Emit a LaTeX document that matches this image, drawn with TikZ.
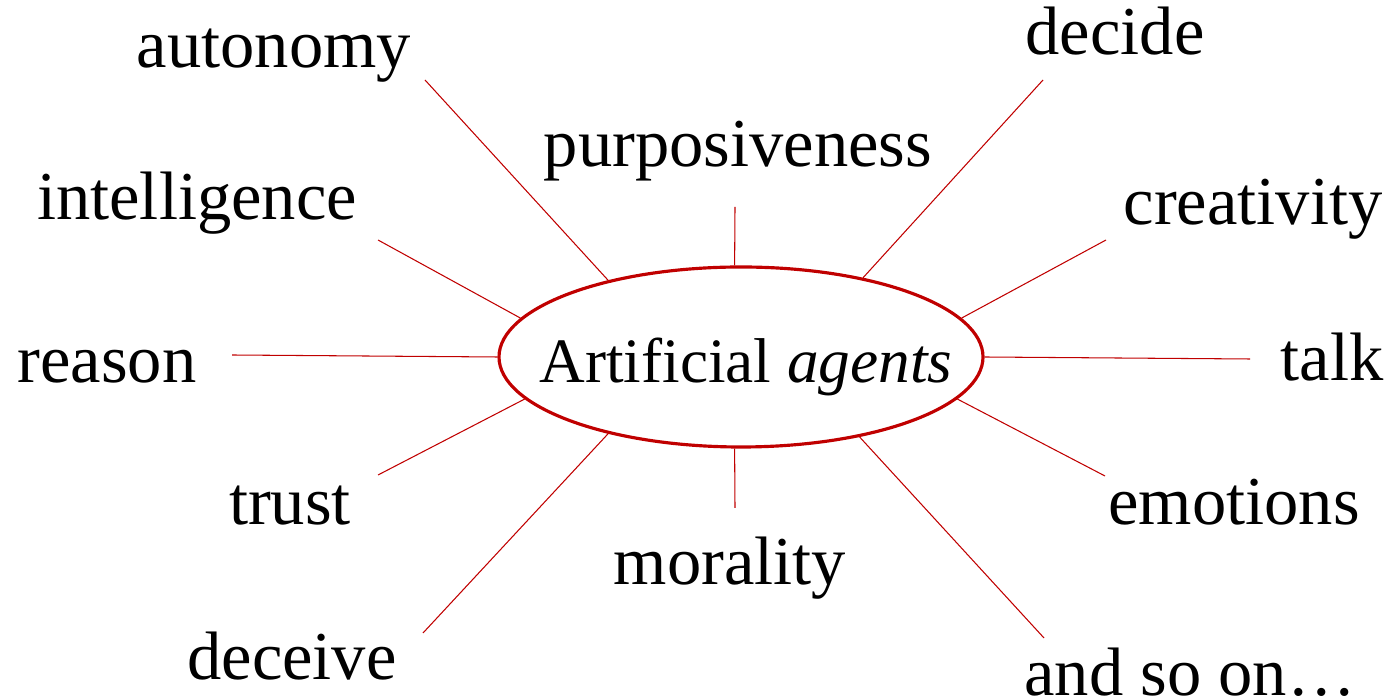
\documentclass[tikz,border=0pt]{standalone}
\usepackage{fontspec}
\setmainfont{Liberation Serif}
\usetikzlibrary{shapes.geometric}
\definecolor{agentred}{RGB}{192,0,0}

\begin{document}
\begin{tikzpicture}[
	every node/.style={font=\fontsize{19.5}{23}\selectfont},
	lbl/.style={anchor=base, inner sep=0pt},
	spoke/.style={agentred, line width=0.3pt}]
	\useasboundingbox (0, 0) rectangle (13.89, 6.99);
	\node (AG) [ellipse, draw=agentred, line width=0.9pt, minimum width=4.84cm,
		minimum height=1.8cm, inner sep=0pt] at (7.41, 3.42) {};
	\node [lbl, font=\fontsize{18}{22}\selectfont] (AGt) at (7.46, 3.16) {Artificial \textit{agents}};
	% labels
	\node [lbl] (aut) at (2.74, 6.31) {autonomy};
	\node [lbl] (dec) at (11.15, 6.44) {decide};
	\node [lbl] (pur) at (7.38, 5.32) {purposiveness};
	\node [lbl] (int) at (1.97, 4.79) {intelligence};
	\node [lbl] (cre) at (12.53, 4.74) {creativity};
	\node [lbl] (rea) at (1.07, 3.16) {reason};
	\node [lbl] (tal) at (13.32, 3.18) {talk};
	\node [lbl] (tru) at (2.90, 1.74) {trust};
	\node [lbl] (emo) at (12.34, 1.74) {emotions};
	\node [lbl] (mor) at (7.30, 1.14) {morality};
	\node [lbl] (dcv) at (2.92, 0.19) {deceive};
	\node [lbl] (aso) at (11.90, 0.03) {and so on\dots};
	% free ends of the spokes
	\coordinate (aut0) at (4.25, 6.19);
	\coordinate (dec0) at (10.43, 6.19);
	\coordinate (pur0) at (7.35, 4.92);
	\coordinate (int0) at (3.78, 4.59);
	\coordinate (cre0) at (11.06, 4.59);
	\coordinate (rea0) at (2.32, 3.44);
	\coordinate (tal0) at (12.50, 3.40);
	\coordinate (tru0) at (3.78, 2.24);
	\coordinate (emo0) at (11.05, 2.23);
	\coordinate (mor0) at (7.35, 1.91);
	\coordinate (dcv0) at (4.23, 0.66);
	\coordinate (aso0) at (10.44, 0.61);
	\draw [spoke] (AG.150) -- (aut0);
	\draw [spoke] (AG.33) -- (dec0);
	\draw [spoke] (AG.94) -- (pur0);
	\draw [spoke] (AG.170) -- (int0);
	\draw [spoke] (AG.10) -- (cre0);
	\draw [spoke] (AG.180) -- (rea0);
	\draw [spoke] (AG.0) -- (tal0);
	\draw [spoke] (AG.191) -- (tru0);
	\draw [spoke] (AG.349) -- (emo0);
	\draw [spoke] (AG.266) -- (mor0);
	\draw [spoke] (AG.210) -- (dcv0);
	\draw [spoke] (AG.326) -- (aso0);
\end{tikzpicture}
\end{document}
